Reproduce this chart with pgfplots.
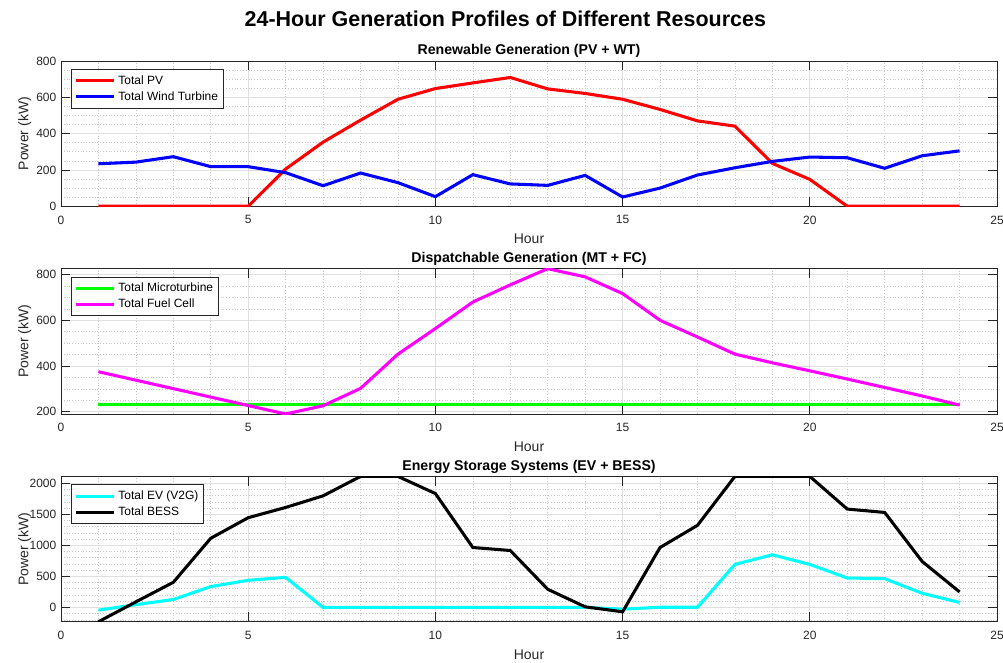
\documentclass[border=0pt]{standalone}
\usepackage{fontspec}
\setmainfont{Liberation Sans}
\usepackage{pgfplots}
\pgfplotsset{compat=1.18}
\definecolor{axc}{RGB}{38,38,38}
\definecolor{gridc}{RGB}{223,223,223}
\definecolor{mgridc}{RGB}{200,200,200}
\definecolor{cred}{RGB}{255,0,0}
\definecolor{cblue}{RGB}{0,0,255}
\definecolor{cgreen}{RGB}{0,255,0}
\definecolor{cmag}{RGB}{255,0,255}
\definecolor{ccyan}{RGB}{0,255,255}
\definecolor{cblack}{RGB}{0,0,0}
\pgfplotsset{
 every axis title shift=0pt,
 mystyle/.style={
  scale only axis, width=702pt, height=109pt,
  xmin=0,xmax=25, xtick={0,5,...,25}, minor x tick num=4,
  grid=both,
  major grid style={gridc, line width=0.6pt},
  minor grid style={mgridc, dash pattern=on 0.5pt off 1.6pt, line width=0.5pt},
  axis line style={axc, line width=0.6pt},
  tick style={axc, line width=0.6pt},
  major tick length=7pt, minor tick length=0pt,
  tick align=inside,
  ticklabel style={font=\fontsize{9}{10}\selectfont, text=axc},
  xticklabel style={yshift=-3.5pt},
  /pgf/number format/assume math mode=true,
  /pgf/number format/1000 sep={},
  xlabel={Hour}, ylabel={Power (kW)},
  label style={font=\fontsize{10.5}{12}\selectfont, text=axc},
  xlabel style={at={(0.5,-0.2569)}, anchor=base},
  ylabel style={at={(-0.0349,0.5)}, anchor=base},
  title style={font=\bfseries\fontsize{10.6}{12}\selectfont, at={(0.5,1.0413)}, anchor=base},
  legend style={at={(0,1)}, anchor=north west, xshift=7.5pt, yshift=-6pt, draw=axc, line width=0.6pt, font=\fontsize{9}{10}\selectfont, inner xsep=2pt, inner ysep=2.5pt, row sep=0pt, cells={anchor=west}},
  legend cell align=left,
  legend image code/.code={\draw[#1] (0pt,0pt) -- (29pt,0pt);},
  every axis plot/.append style={line width=2.3pt},
 }
}
\pgfplotstableread{
h PV WT MT FC EV BESS
1 0 234 232 375 -43 -230
2 0 243 232 338 45 90
3 0 273 232 301 128 405
4 0 218 232 264 336 1114
5 0 218 232 227 437 1445
6 205 185 232 190 485 1610
7 353 113 232 226 0 1797
8 474 183 232 302 0 2110
9 589 130 232 452 0 2110
10 648 53 232 564 0 1834
11 679 174 232 680 0 965
12 709 123 232 755 0 917
13 646 115 232 826 0 293
14 621 170 232 790 0 10
15 589 51 232 717 -27 -70
16 533 100 232 600 3 965
17 470 172 232 527 3 1322
18 441 212 232 452 693 2110
19 236 247 232 414 848 2110
20 148 271 232 379 693 2110
21 0 267 232 343 474 1584
22 0 209 232 306 464 1530
23 0 278 232 269 229 741
24 0 305 232 229 80 250
}\datatab
\begin{document}
\begin{tikzpicture}
\path[use as bounding box] (0,0) rectangle (752.25pt,496.5pt);
\node[font=\bfseries\fontsize{16.1}{19}\selectfont] at (379pt,482.5pt) {24-Hour Generation Profiles of Different Resources};
\begin{axis}[mystyle, at={(45.75pt,341.8pt)}, anchor=south west,
  ymin=0, ymax=800, ytick={0,200,...,800}, minor y tick num=3,
  title={Renewable Generation (PV + WT)}]
\addplot[cred] table[x=h,y=PV]{\datatab};
\addlegendentry{Total PV}
\addplot[cblue] table[x=h,y=WT]{\datatab};
\addlegendentry{Total Wind Turbine}
\end{axis}
\begin{axis}[mystyle, at={(45.75pt,186pt)}, anchor=south west,
  ymin=190, ymax=826, ytick={0,200,...,1000}, minor y tick num=3,
  title={Dispatchable Generation (MT + FC)}]
\addplot[cgreen] table[x=h,y=MT]{\datatab};
\addlegendentry{Total Microturbine}
\addplot[cmag] table[x=h,y=FC]{\datatab};
\addlegendentry{Total Fuel Cell}
\end{axis}
\begin{axis}[mystyle, at={(45.75pt,30.2pt)}, anchor=south west,
  ymin=-230, ymax=2110, ytick={-500,0,...,2000}, minor y tick num=4,
  title={Energy Storage Systems (EV + BESS)}]
\addplot[ccyan] table[x=h,y=EV]{\datatab};
\addlegendentry{Total EV (V2G)}
\addplot[cblack] table[x=h,y=BESS]{\datatab};
\addlegendentry{Total BESS}
\end{axis}
\end{tikzpicture}
\end{document}
